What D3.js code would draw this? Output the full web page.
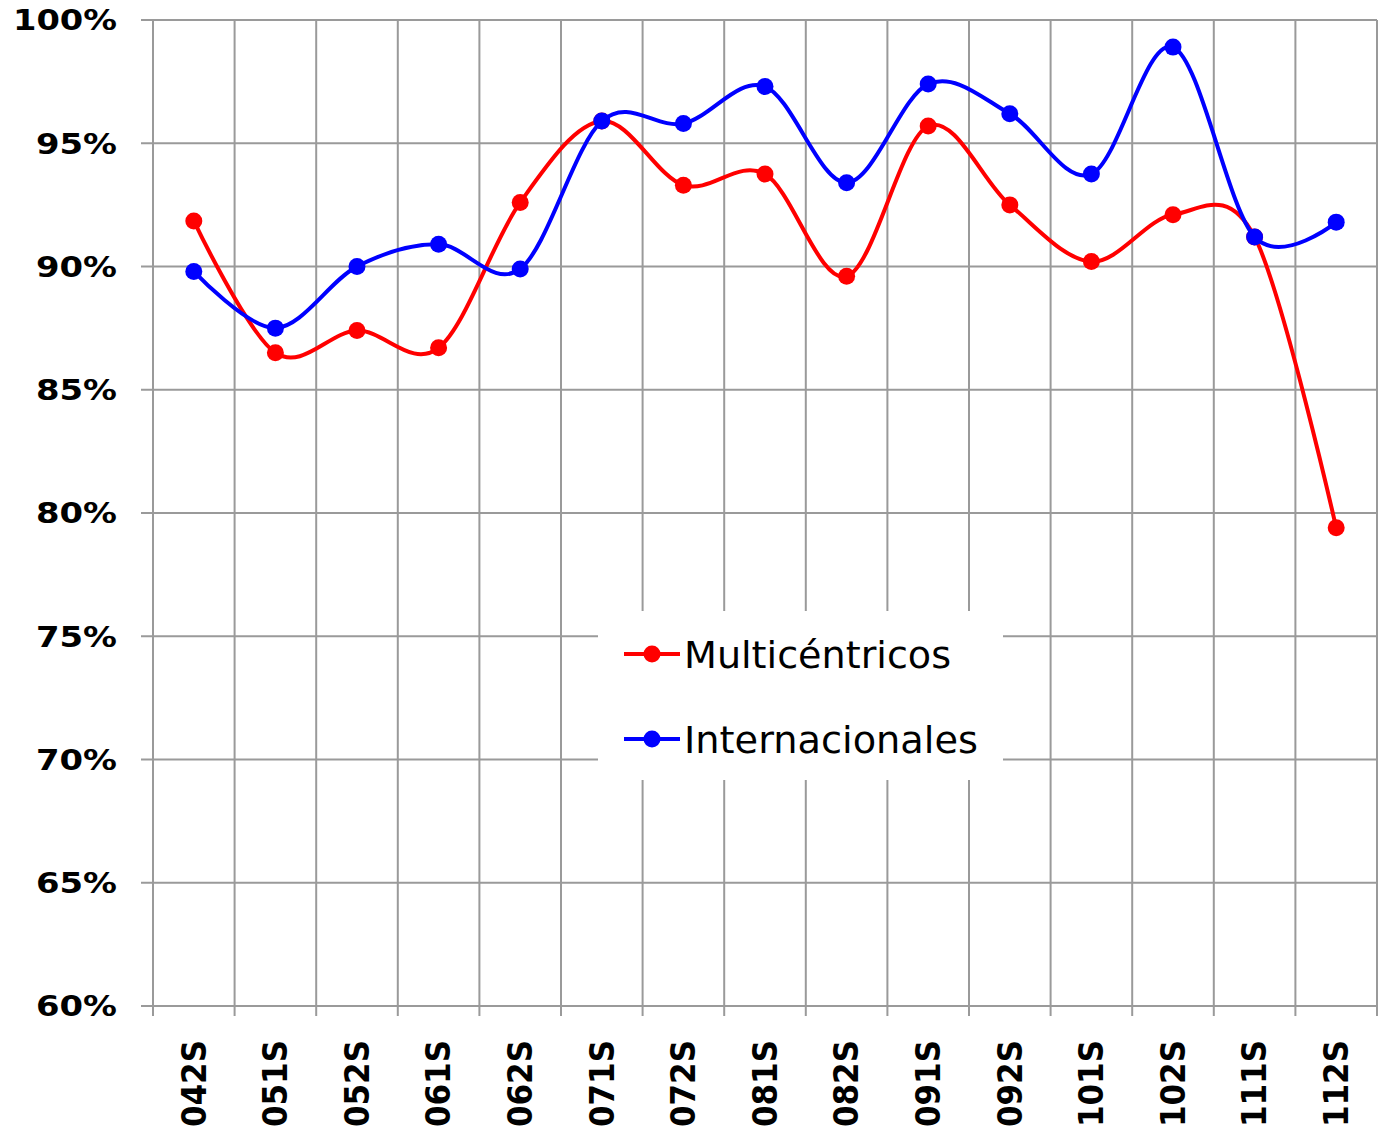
<!DOCTYPE html>
<html>
<head>
<meta charset="utf-8">
<script src="https://cdn.jsdelivr.net/npm/d3@7"></script>
<style>
  body { margin: 0; background: #fff; }
  svg { display: block; }
</style>
</head>
<body>
<svg id="chart" width="1381" height="1128"></svg>
<script>
'use strict';

const categories = ['042S', '051S', '052S', '061S', '062S', '071S', '072S', '081S',
	'082S', '091S', '092S', '101S', '102S', '111S', '112S'];
const multicentricos = [91.85, 86.5, 87.4, 86.7, 92.6, 95.9, 93.3, 93.75,
	89.6, 95.7, 92.5, 90.2, 92.1, 91.2, 79.4];
const internacionales = [89.8, 87.5, 90.0, 90.9, 89.9, 95.9, 95.8, 97.3,
	93.4, 97.4, 96.2, 93.75, 98.9, 91.2, 91.8];
const yTicks = [60, 65, 70, 75, 80, 85, 90, 95, 100];

const series = [
	{ name: 'Multicéntricos', color: '#ff0000', values: multicentricos, len: 267 },
	{ name: 'Internacionales', color: '#0000ff', values: internacionales, len: 294 },
];

const plotLeft = 153, plotRight = 1377, plotTop = 20, plotBottom = 1006;
const gridColor = '#9a9a9a';

const svg = d3.select('#chart');

const x = d3.scaleBand().domain(categories).range([plotLeft, plotRight]);
const y = d3.scaleLinear().domain([60, 100]).range([plotBottom, plotTop]);
const cx = d => x(d) + x.bandwidth() / 2;

// grid
const grid = svg.append('g');
grid.selectAll('.hgrid').data(yTicks).enter().append('line')
	.attr('x1', plotLeft - 12).attr('x2', plotRight)
	.attr('y1', d => y(d)).attr('y2', d => y(d))
	.attr('stroke', gridColor).attr('stroke-width', 2);
const vlines = categories.map(c => x(c)).concat([plotRight]);
grid.selectAll('.vgrid').data(vlines).enter().append('line')
	.attr('x1', d => d).attr('x2', d => d)
	.attr('y1', plotTop).attr('y2', plotBottom + 10)
	.attr('stroke', gridColor).attr('stroke-width', 2);

// y labels
svg.append('g').selectAll('text').data(yTicks).enter().append('text')
	.attr('x', 117).attr('y', d => y(d))
	.attr('dy', '0.36em')
	.attr('text-anchor', 'end')
	.style('font-family', '"DejaVu Sans", Verdana, sans-serif')
	.style('font-weight', 'bold')
	.style('font-size', '29px')
	.attr('textLength', d => d === 100 ? 104 : 81)
	.attr('lengthAdjust', 'spacingAndGlyphs')
	.text(d => d + '%');

// x labels
svg.append('g').selectAll('text').data(categories).enter().append('text')
	.attr('transform', d => `translate(${cx(d)},1040) rotate(-90)`)
	.attr('dy', '0.36em')
	.attr('text-anchor', 'end')
	.style('font-family', '"DejaVu Sans", Verdana, sans-serif')
	.style('font-weight', 'bold')
	.style('font-size', '33px')
	.attr('textLength', 87)
	.attr('lengthAdjust', 'spacingAndGlyphs')
	.text(d => d);

// legend background
svg.append('rect')
	.attr('x', 598).attr('y', 611).attr('width', 405).attr('height', 169)
	.attr('fill', '#fff');

// lines
const line = d3.line()
	.x((d, i) => cx(categories[i]))
	.y(d => y(d))
	.curve(d3.curveCardinal.tension(0));

series.forEach(s => {
	svg.append('path')
		.datum(s.values)
		.attr('d', line)
		.attr('fill', 'none')
		.attr('stroke', s.color)
		.attr('stroke-width', 4);
	svg.append('g').selectAll('circle').data(s.values).enter().append('circle')
		.attr('cx', (d, i) => cx(categories[i]))
		.attr('cy', d => y(d))
		.attr('r', 8.5)
		.attr('fill', s.color);
});

// legend
const legend = svg.append('g').selectAll('g').data(series).enter().append('g')
	.attr('transform', (d, i) => `translate(624,${654 + i * 85})`);
legend.append('line')
	.attr('x1', 0).attr('x2', 56)
	.attr('stroke', d => d.color).attr('stroke-width', 4);
legend.append('circle')
	.attr('cx', 28).attr('r', 8.5).attr('fill', d => d.color);
legend.append('text')
	.attr('x', 60).attr('dy', '0.36em')
	.style('font-family', '"DejaVu Sans", Verdana, sans-serif')
	.style('font-size', '38px')
	.attr('textLength', d => d.len)
	.attr('lengthAdjust', 'spacingAndGlyphs')
	.text(d => d.name);
</script>
</body>
</html>
